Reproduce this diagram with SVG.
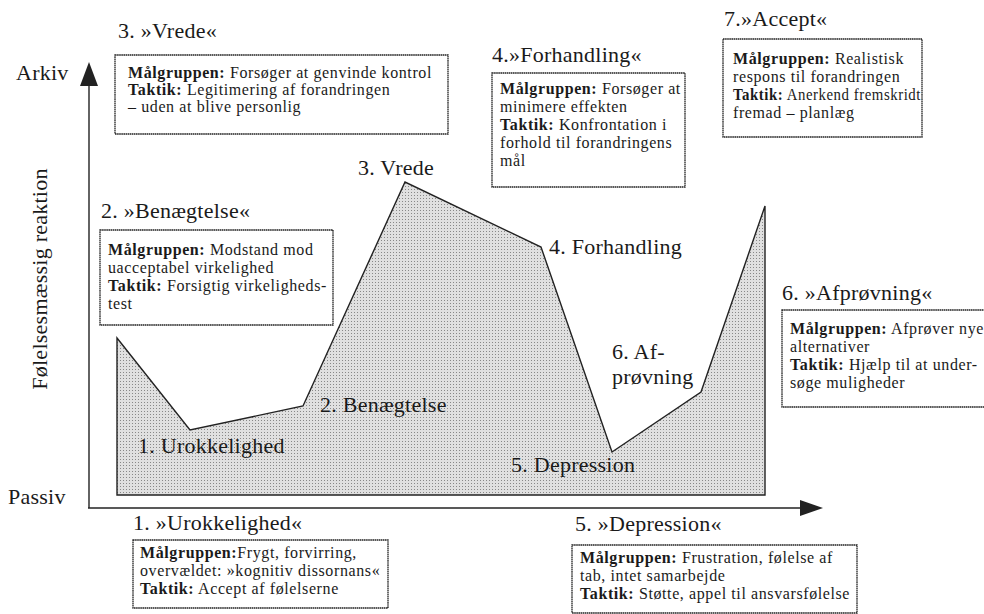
<svg xmlns="http://www.w3.org/2000/svg" width="984" height="614" viewBox="0 0 984 614" font-family="'Liberation Serif', 'Times New Roman', serif">
<style>
text{font-family:'Liberation Serif','Times New Roman',serif}
.t{font-size:22px;letter-spacing:0.25px;fill:#1a1a1a}
.b{font-size:16px;letter-spacing:0.6px;fill:#1a1a1a}
.k{font-weight:bold}
.box{fill:#fff;stroke:#222;stroke-width:1.3;stroke-dasharray:1.6 0.5}
.ax{stroke:#222;stroke-width:1.4;fill:none}
</style>
<defs>
<pattern id="dots" width="3" height="3" patternUnits="userSpaceOnUse">
<rect width="3" height="3" fill="#e0e0e0"/>
<rect width="1" height="1" fill="#888"/>
</pattern>
</defs>
<rect width="984" height="614" fill="#fff"/>

<g id="area">
<polygon points="117,338 190,430 303,406 405,182 541,247 612,452 701,392 765,206 765,495 117,495" fill="url(#dots)" stroke="#222" stroke-width="1.4"/>
</g>

<g id="connectors">
<line class="ax" x1="89" y1="80" x2="89" y2="508"/>
<line class="ax" x1="88" y1="508" x2="802" y2="508"/>
<polygon points="89,62 80,86 98,86" fill="#222"/>
<polygon points="823,508 800,500 800,516" fill="#222"/>
</g>

<g id="axis-labels">
<text class="t" x="16" y="80">Arkiv</text>
<text class="t" x="8" y="504">Passiv</text>
<text class="t" transform="translate(47,279) rotate(-90)" text-anchor="middle">Følelsesmæssig reaktion</text>
</g>

<g id="curve-labels">
<text class="t" x="138" y="453">1. Urokkelighed</text>
<text class="t" x="320" y="412">2. Benægtelse</text>
<text class="t" x="358" y="175">3. Vrede</text>
<text class="t" x="549" y="254">4. Forhandling</text>
<text class="t" x="511" y="472">5. Depression</text>
<text class="t" x="612" y="359">6. Af-</text>
<text class="t" x="612" y="384">prøvning</text>
</g>

<g id="stage3">
<text class="t" x="118" y="38">3. »Vrede«</text>
<rect class="box" x="115" y="55" width="333" height="79"/>
<text class="b" x="128" y="78"><tspan class="k">Målgruppen:</tspan> Forsøger at genvinde kontrol</text>
<text class="b" x="128" y="95"><tspan class="k">Taktik:</tspan> Legitimering af forandringen</text>
<text class="b" x="128" y="112">– uden at blive personlig</text>
</g>

<g id="stage4">
<text class="t" x="492" y="62">4.»Forhandling«</text>
<rect class="box" x="492" y="73" width="193" height="114"/>
<text class="b" x="500" y="94"><tspan class="k">Målgruppen:</tspan> Forsøger at</text>
<text class="b" x="500" y="112">minimere effekten</text>
<text class="b" x="500" y="130"><tspan class="k">Taktik:</tspan> Konfrontation i</text>
<text class="b" x="500" y="148">forhold til forandringens</text>
<text class="b" x="500" y="166">mål</text>
</g>

<g id="stage7">
<text class="t" x="724" y="26">7.»Accept«</text>
<rect class="box" x="723" y="39" width="199" height="98"/>
<text class="b" x="733" y="64"><tspan class="k">Målgruppen:</tspan> Realistisk</text>
<text class="b" x="733" y="82">respons til forandringen</text>
<text class="b" x="733" y="100" textLength="188" lengthAdjust="spacingAndGlyphs"><tspan class="k">Taktik:</tspan> Anerkend fremskridt</text>
<text class="b" x="733" y="118"> fremad – planlæg</text>
</g>

<g id="stage2">
<text class="t" x="101" y="218">2. »Benægtelse«</text>
<rect class="box" x="100" y="230" width="233" height="95"/>
<text class="b" x="108" y="255"><tspan class="k">Målgruppen:</tspan> Modstand mod</text>
<text class="b" x="108" y="273">uacceptabel virkelighed</text>
<text class="b" x="108" y="291"><tspan class="k">Taktik:</tspan> Forsigtig virkeligheds-</text>
<text class="b" x="108" y="309">test</text>
</g>

<g id="stage6">
<text class="t" x="782" y="300">6. »Afprøvning«</text>
<rect class="box" x="782" y="310" width="230" height="97"/>
<text class="b" x="790" y="334"><tspan class="k">Målgruppen:</tspan> Afprøver nye</text>
<text class="b" x="790" y="352">alternativer</text>
<text class="b" x="790" y="370"><tspan class="k">Taktik:</tspan> Hjælp til at under-</text>
<text class="b" x="790" y="388">søge muligheder</text>
</g>

<g id="stage1">
<text class="t" x="133" y="530">1. »Urokkelighed«</text>
<rect class="box" x="133" y="540" width="255" height="68"/>
<text class="b" x="140" y="558"><tspan class="k">Målgruppen:</tspan>Frygt, forvirring,</text>
<text class="b" x="140" y="576">overvældet: »kognitiv dissornans«</text>
<text class="b" x="140" y="594"><tspan class="k">Taktik:</tspan> Accept af følelserne</text>
</g>

<g id="stage5">
<text class="t" x="575" y="531">5. »Depression«</text>
<rect class="box" x="572" y="545" width="285" height="68"/>
<text class="b" x="580" y="563"><tspan class="k">Målgruppen:</tspan> Frustration, følelse af</text>
<text class="b" x="580" y="581">tab, intet samarbejde</text>
<text class="b" x="580" y="599"><tspan class="k">Taktik:</tspan> Støtte, appel til ansvarsfølelse</text>
</g>
</svg>
